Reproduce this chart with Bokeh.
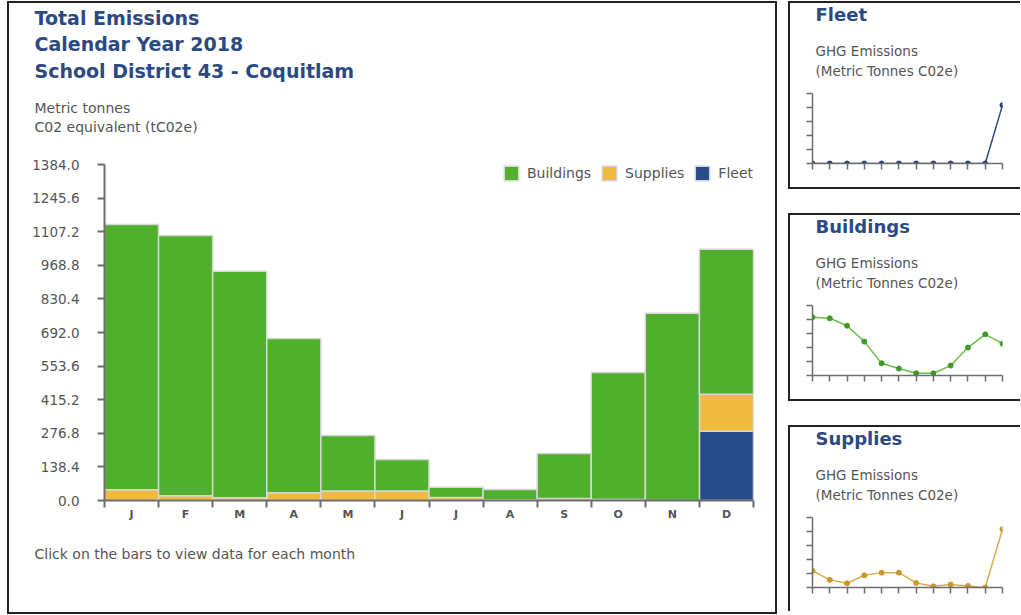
from bokeh.plotting import figure
from bokeh.models import (Range1d, FixedTicker, PrintfTickFormatter, Legend, LegendItem,
                          ColumnDataSource, CustomJSTickFormatter)
from bokeh.core.properties import value
from bokeh.layouts import row, column
from bokeh.embed import file_html
from bokeh.resources import INLINE

# ---------------- data ----------------
months = ["J", "F", "M", "A", "M", "J", "J", "A", "S", "O", "N", "D"]
buildings = [1093, 1072, 933, 635, 229, 130, 43, 42, 186, 523, 771, 597]
supplies = [44, 20, 11, 32, 39, 39, 12, 3, 8, 4, 0, 153]
fleet = [0, 0, 0, 0, 0, 0, 0, 0, 0, 0, 0, 285]
y_ticks = [0.0, 138.4, 276.8, 415.2, 553.6, 692.0, 830.4, 968.8, 1107.2, 1245.6, 1384.0]
series = ["Buildings", "Supplies", "Fleet"]
fill = {"Buildings": "#50af2c", "Supplies": "#f0bb3c", "Fleet": "#284b8a"}

FONT = "DejaVu Sans"
TITLE_COLOR = "#2b4a82"
GRAY = "#555555"
AXIS = "#6d6d6d"
BORDER = "2px solid #222222"

idx = list(range(len(months)))


def no_align(fig):
    if "frame_align" in fig.properties():
        fig.frame_align = False
        return fig
    return row(fig)


def text_panel(width, height, lines):
    h = figure(width=width, height=height, x_range=Range1d(0, width), y_range=Range1d(height, 0),
               x_axis_type=None, y_axis_type=None, min_border=0,
               output_backend="svg", toolbar_location=None)
    h.outline_line_color = None
    h.xgrid.visible = False
    h.ygrid.visible = False
    for (x, y, t, size, color, bold) in lines:
        h.text(x=[x], y=[y], text=[t], text_font=value(FONT), text_font_size=value(f"{size}px"),
               text_color=color, text_font_style="bold" if bold else "normal",
               text_baseline="middle", text_align="left")
    return no_align(h)


# ---------------- main chart ----------------
W = 766
HEAD_H = 150
ML, MT, FW, FH = 95, 11, 649, 336
CH = 380
MR = W - ML - FW
MB = CH - MT - FH
FOOT_H = 609 - HEAD_H - CH

head = text_panel(W, HEAD_H, [
    (25, 14, "Total Emissions", 19, TITLE_COLOR, True),
    (25, 40.5, "Calendar Year 2018", 19, TITLE_COLOR, True),
    (25, 67, "School District 43 - Coquitlam", 19, TITLE_COLOR, True),
    (25, 104.5, "Metric tonnes", 14, GRAY, False),
    (25, 123.5, "C02 equivalent (tC02e)", 14, GRAY, False),
])
foot = text_panel(W, FOOT_H, [
    (25, 550 - HEAD_H - CH, "Click on the bars to view data for each month", 14, GRAY, False),
])

p = figure(width=W, height=CH, x_range=Range1d(-0.5, len(months) - 0.5), y_range=Range1d(0, y_ticks[-1]),
           output_backend="svg", toolbar_location=None,
           min_border_left=ML, min_border_right=MR, min_border_top=MT, min_border_bottom=MB)
p.outline_line_color = None
p.xgrid.visible = False
p.ygrid.visible = False

src = ColumnDataSource(dict(x=idx, Buildings=buildings, Supplies=supplies, Fleet=fleet))
rs = p.vbar_stack(["Fleet", "Supplies", "Buildings"], x="x", width=1.0, source=src,
                  fill_color=[fill["Fleet"], fill["Supplies"], fill["Buildings"]],
                  line_color="#d6d6d6", line_width=1.5)
rmap = {"Fleet": rs[0], "Supplies": rs[1], "Buildings": rs[2]}

yax = p.yaxis[0]
yax.ticker = FixedTicker(ticks=y_ticks)
yax.formatter = PrintfTickFormatter(format="%.1f")
yax.axis_line_color = AXIS
yax.axis_line_width = 2
yax.major_tick_line_color = AXIS
yax.major_tick_line_width = 2
yax.major_tick_out = 7
yax.major_tick_in = 0
yax.minor_tick_line_color = None
yax.major_label_standoff = 18
yax.major_label_text_font = FONT
yax.major_label_text_font_size = "13.5px"
yax.major_label_text_color = GRAY

xax = p.xaxis[0]
xax.ticker = FixedTicker(ticks=idx, minor_ticks=[i - 0.5 for i in range(len(months) + 1)])
xax.major_label_overrides = {i: m for i, m in enumerate(months)}
xax.axis_line_color = AXIS
xax.axis_line_width = 2
xax.major_tick_line_color = None
xax.major_tick_out = 0
xax.major_tick_in = 0
xax.minor_tick_line_color = AXIS
xax.minor_tick_line_width = 2
xax.minor_tick_out = 7
xax.minor_tick_in = 0
xax.major_label_standoff = 0
xax.major_label_text_font = FONT
xax.major_label_text_font_size = "11px"
xax.major_label_text_font_style = "bold"
xax.major_label_text_color = GRAY

leg = Legend(items=[LegendItem(label=n, renderers=[rmap[n]]) for n in series],
             orientation="horizontal", location="top_right",
             border_line_color=None, background_fill_alpha=0,
             glyph_width=18, glyph_height=18, label_standoff=7, spacing=9,
             padding=0, margin=0, label_text_font=FONT, label_text_font_size="14px",
             label_text_color=GRAY)
p.add_layout(leg)

main = column(head, p, foot, spacing=0, styles={"border": BORDER})


# ---------------- sparklines ----------------
def spark(title, values, line_color, point_color, last=False):
    IW = 230
    SH_HEAD = 85
    SCH = 99
    SL, ST, SFW, SFH = 22, 5, 190, 70
    top = 1.2 * max(values)
    hd = text_panel(IW, SH_HEAD, [
        (25, 11, title, 18, TITLE_COLOR, True),
        (25, 47.5, "GHG Emissions", 13.5, GRAY, False),
        (25, 67, "(Metric Tonnes C02e)", 13.5, GRAY, False),
    ])
    s = figure(width=IW, height=SCH, x_range=Range1d(0, len(values) - 1), y_range=Range1d(0, top),
               output_backend="svg", toolbar_location=None,
               min_border_left=SL, min_border_top=ST,
               min_border_right=IW - SL - SFW, min_border_bottom=SCH - ST - SFH)
    s.outline_line_color = None
    s.xgrid.visible = False
    s.ygrid.visible = False
    s.line(idx, values, line_color=line_color, line_width=1.5)
    s.scatter(idx, values, size=5, fill_color=point_color, line_color=point_color)
    blank = CustomJSTickFormatter(code="return ''")
    for ax, ticks in ((s.xaxis[0], idx), (s.yaxis[0], [top * k / 5 for k in range(6)])):
        ax.ticker = FixedTicker(ticks=ticks)
        ax.formatter = blank
        ax.axis_line_color = AXIS
        ax.axis_line_width = 1.5
        ax.major_tick_line_color = AXIS
        ax.major_tick_line_width = 1.5
        ax.major_tick_out = 6
        ax.major_tick_in = 0
        ax.minor_tick_line_color = None
        ax.major_label_text_font_size = "1px"
    st = {"border-top": BORDER, "border-left": BORDER}
    if not last:
        st["border-bottom"] = BORDER
    return column(hd, s, spacing=0, styles=st)


s1 = spark("Fleet", fleet, "#2b4a86", "#223f77")
s2 = spark("Buildings", buildings, "#6cbf4a", "#3d9a2a")
s3 = spark("Supplies", supplies, "#d9ad4a", "#c8982e", last=True)

side = column(s1, s2, s3, spacing=24)
root = row(main, side, spacing=11, styles={"margin-left": "7px", "margin-top": "1px"})

open("out.html", "w").write(file_html(root, INLINE))
